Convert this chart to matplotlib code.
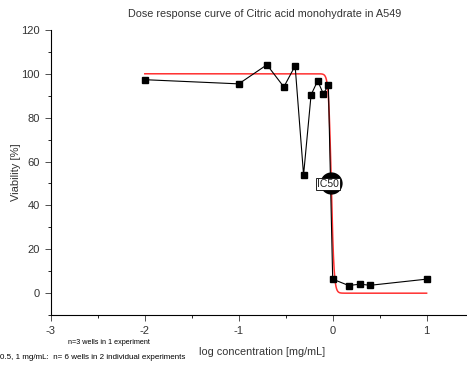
import matplotlib
matplotlib.use("Agg")
import matplotlib.pyplot as plt
import numpy as np

plt.rcParams['font.family'] = ['Liberation Sans', 'DejaVu Sans']

# measured points (log concentration, viability %)
log_conc = [-2.0, -1.0, -0.70, -0.52, -0.40, -0.31, -0.23, -0.16, -0.10, -0.046,
            0.0, 0.17, 0.29, 0.40, 1.0]
viability = [97.3, 95.4, 104.1, 94.0, 103.6, 53.9, 90.4, 96.8, 90.9, 94.7,
             6.4, 3.5, 4.1, 3.6, 6.4]

# fitted curve parameters
top = 100.0
bottom = 0.0
log_ic50 = -0.015
hill = 30.0

x_ticks = [-3, -2, -1, 0, 1]
y_ticks = [0, 20, 40, 60, 80, 100, 120]

fig = plt.figure(figsize=(4.67, 3.69), dpi=100)
ax = fig.add_axes([0.109, 0.146, 0.891, 0.773])

xf = np.linspace(-2, 1, 2000)
yf = bottom + (top - bottom) / (1 + 10 ** ((xf - log_ic50) * hill))
ax.plot(xf, yf, color='#ff3030', lw=1.1, zorder=2)

ax.plot(log_conc, viability, color='black', lw=0.8, marker='s', ms=4.8,
        mfc='black', mec='black', zorder=3)

ic50_y = (top + bottom) / 2
ax.plot([log_ic50], [ic50_y], 'o', color='black', ms=15, zorder=4)
ax.text(log_ic50 - 0.035, ic50_y - 0.3, 'IC50', fontsize=7.5, ha='center', va='center',
        zorder=5, color='#222222',
        bbox=dict(boxstyle='square,pad=0.12', fc='white', ec='black', lw=0.6))

ax.set_xlim(-3, 1.43)
ax.set_ylim(-10, 120)
ax.set_xticks(x_ticks)
ax.set_xticklabels([str(t) for t in x_ticks])
ax.set_yticks(y_ticks)
ax.set_xticks(np.arange(-3, 1.5, 0.5), minor=True)
ax.set_yticks(np.arange(-10, 121, 10), minor=True)
ax.tick_params(which='major', direction='out', length=4, width=0.6, labelsize=8,
               colors='#333333', pad=4)
ax.tick_params(which='minor', direction='out', length=2, width=0.6)
for s in ['top', 'right']:
    ax.spines[s].set_visible(False)
for s in ['left', 'bottom']:
    ax.spines[s].set_linewidth(0.8)

ax.set_ylabel('Viability [%]', fontsize=8, color='#333333', labelpad=0)
fig.text(0.561, 0.047, 'log concentration [mg/mL]', fontsize=7.8, color='#333333',
         ha='center', va='center')
fig.text(0.567, 0.962, 'Dose response curve of Citric acid monohydrate in A549',
         fontsize=7.8, color='#333333', ha='center', va='center')
fig.text(0.146, 0.071, 'n=3 wells in 1 experiment', fontsize=5.2, ha='left', va='center')
fig.text(0.0, 0.030, '0.5, 1 mg/mL:  n= 6 wells in 2 individual experiments',
         fontsize=5.8, ha='left', va='center')

fig.savefig('out.png', dpi=100)
